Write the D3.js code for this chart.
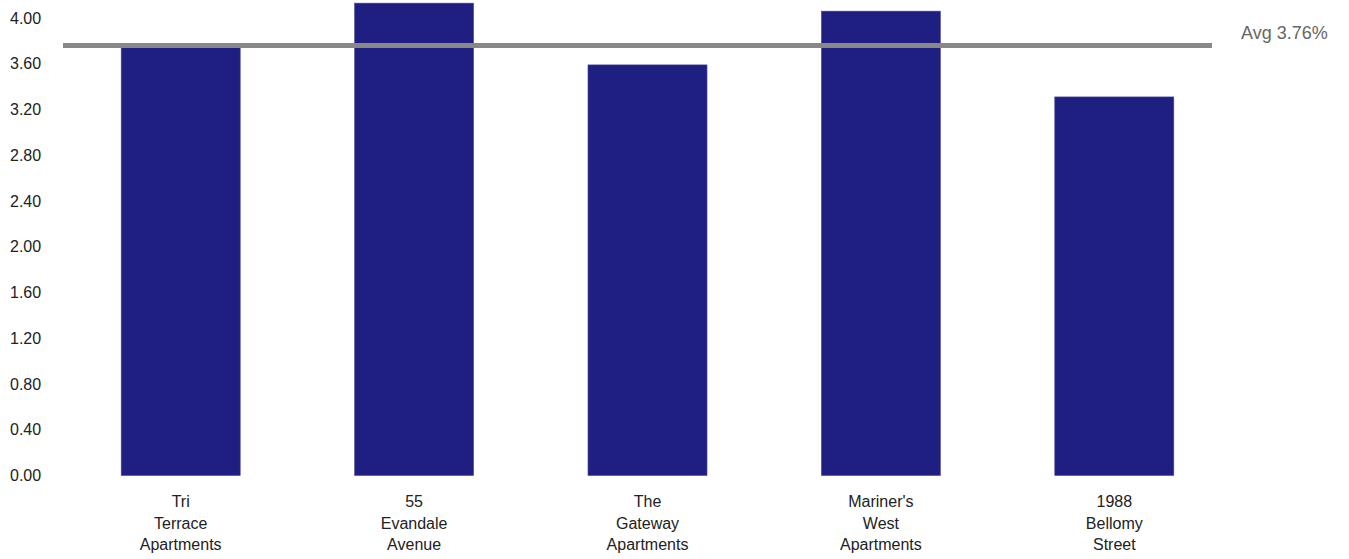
<!DOCTYPE html>
<html lang="en">
<head>
<meta charset="UTF-8">
<title>Rates by property</title>
<style>
    body { margin: 0; background: #fff; }
    svg text { font-family: "Liberation Sans", Arial, Helvetica, sans-serif; }
</style>
</head>
<body>
<script src="https://d3js.org/d3.v7.min.js"></script>
<script>
    // data
    const properties = [
        ["Tri", "Terrace", "Apartments"],
        ["55", "Evandale", "Avenue"],
        ["The", "Gateway", "Apartments"],
        ["Mariner's", "West", "Apartments"],
        ["1988", "Bellomy", "Street"]
    ];
    const rates = [3.74, 4.13, 3.59, 4.06, 3.31];
    const yTicks = [0, 0.4, 0.8, 1.2, 1.6, 2.0, 2.4, 2.8, 3.2, 3.6, 4.0];
    const avgRate = 3.76;

    const width = 1349, height = 559;

    const svg = d3.select("body").append("svg")
        .attr("width", width)
        .attr("height", height);

    const x = d3.scaleBand()
        .domain(d3.range(properties.length))
        .range([64, 1231])
        .paddingInner(0.49)
        .paddingOuter(0.245);

    const y = d3.scaleLinear()
        .domain([0, 4])
        .range([475.5, 18]);

    // y tick labels, left aligned
    svg.append("g")
        .selectAll("text")
        .data(yTicks)
        .join("text")
        .attr("x", 10)
        .attr("y", d => y(d))
        .attr("dy", "0.35em")
        .attr("font-size", 16)
        .attr("fill", "#222")
        .text(d => d.toFixed(2));

    // bars
    svg.append("g")
        .selectAll("rect")
        .data(rates)
        .join("rect")
        .attr("x", (d, i) => x(i))
        .attr("y", d => y(d))
        .attr("width", x.bandwidth())
        .attr("height", d => y(0) - y(d))
        .attr("fill", "#1f1f82")
        .attr("stroke", "#4a4a99")
        .attr("stroke-width", 0.6);

    // category labels
    const cat = svg.append("g")
        .selectAll("text")
        .data(properties)
        .join("text")
        .attr("text-anchor", "middle")
        .attr("font-size", 16)
        .attr("fill", "#222")
        .attr("transform", (d, i) => `translate(${x(i) + x.bandwidth() / 2},507)`);

    cat.selectAll("tspan")
        .data(d => d)
        .join("tspan")
        .attr("x", 0)
        .attr("y", (d, i) => i * 21.5)
        .text(d => d);

    // average line
    svg.append("line")
        .attr("x1", 63)
        .attr("x2", 1212)
        .attr("y1", y(avgRate))
        .attr("y2", y(avgRate))
        .attr("stroke", "#888")
        .attr("stroke-width", 5);

    svg.append("text")
        .attr("x", 1241)
        .attr("y", 33)
        .attr("dy", "0.35em")
        .attr("font-size", 18)
        .attr("fill", "#666")
        .text(`Avg ${avgRate.toFixed(2)}%`);
</script>
</body>
</html>
